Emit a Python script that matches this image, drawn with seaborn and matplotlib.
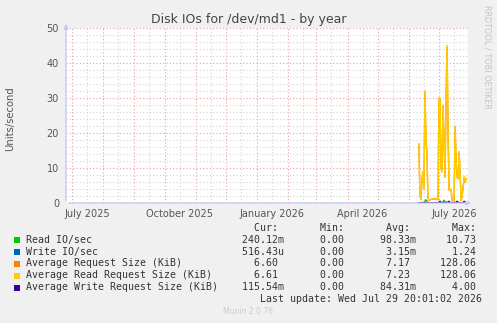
import numpy as np
import pandas as pd
import matplotlib
matplotlib.use("Agg")
import matplotlib.pyplot as plt
import matplotlib.dates as mdates
import seaborn as sns

# ---------------- data ----------------
start_day = "2026-06-11"
n_days = 48
avg_read_req = [17, 2, 1, 6.5, 9, 4, 32, 18, 14, 1.5, 0.8, 0.9, 1.0, 1.1, 1.2, 1.0,
                1.3, 1.1, 1.2, 0.9, 30, 30, 10, 9, 28, 18, 7.5, 30, 45, 21, 3.7, 4,
                3.7, 0.7, 0.5, 0.5, 22, 12, 7.5, 7, 14.7, 8, 0.7, 2, 4.7, 7.5, 6, 7]
avg_req = [16.8, 2, 1, 6.4, 8.9, 4, 31.6, 17.8, 13.8, 1.5, 0.8, 0.9, 1.0, 1.1, 1.2, 1.0,
           1.3, 1.1, 1.2, 0.9, 29.6, 29.7, 9.9, 8.9, 27.7, 17.8, 7.4, 29.7, 44.5, 20.7, 3.7, 4,
           3.7, 0.7, 0.5, 0.5, 21.7, 11.9, 7.4, 6.9, 14.5, 7.9, 0.7, 2, 4.6, 7.4, 5.9, 6.9]
read_io = [0.1, 0.05, 0.05, 0.1, 0.2, 0.1, 0.5, 0.9, 0.6, 0.05, 0.05, 0.05, 0.05, 0.05, 0.05, 0.05,
           0.05, 0.05, 0.05, 0.05, 0.3, 0.2, 0.1, 0.1, 0.4, 0.8, 0.3, 0.2, 0.3, 0.1, 0.05, 0.05,
           0.05, 0.05, 0.05, 0.05, 0.2, 0.1, 0.1, 0.1, 0.2, 0.1, 0.05, 0.05, 0.1, 0.3, 0.2, 0.24]
write_io = [0.003, 0.002, 0.002, 0.003, 0.003, 0.002, 0.004, 0.003, 0.003, 0.002, 0.002, 0.002,
            0.002, 0.002, 0.002, 0.002, 0.002, 0.002, 0.002, 0.002, 0.004, 0.003, 0.003, 0.003,
            0.004, 0.003, 0.003, 0.004, 0.004, 0.003, 0.002, 0.002, 0.002, 0.002, 0.002, 0.002,
            0.003, 0.003, 0.003, 0.003, 0.003, 0.003, 0.002, 0.002, 0.003, 0.003, 0.003, 0.0005]
avg_write_req = [0.1, 0.08, 0.08, 0.1, 0.1, 0.08, 0.1, 0.12, 0.1, 0.08, 0.08, 0.08, 0.08, 0.08,
                 0.08, 0.08, 0.08, 0.08, 0.08, 0.08, 0.1, 0.5, 0.1, 0.08, 0.1, 0.1, 0.1, 0.12,
                 0.1, 0.1, 0.5, 0.08, 0.08, 0.08, 0.08, 0.08, 0.1, 0.1, 0.5, 0.1, 0.1, 0.1,
                 0.08, 0.08, 0.1, 0.5, 0.1, 0.12]

series_names = ["Read IO/sec", "Write IO/sec", "Average Request Size (KiB)",
                "Average Read Request Size (KiB)", "Average Write Request Size (KiB)"]
series_colors = ["#00CC00", "#0066B3", "#FF8000", "#FFCC00", "#330099"]
cur_vals = ["240.12m", "516.43u", "6.60", "6.61", "115.54m"]
min_vals = ["0.00", "0.00", "0.00", "0.00", "0.00"]
avg_vals = ["98.33m", "3.15m", "7.17", "7.23", "84.31m"]
max_vals = ["10.73", "1.24", "128.06", "128.06", "4.00"]

title = "Disk IOs for /dev/md1 - by year"
ylabel = "Units/second"
last_update = "Last update: Wed Jul 29 20:01:02 2026"

# ---------------- build frame ----------------
dates = pd.date_range(start_day, periods=n_days, freq="D")
all_vals = [read_io, write_io, avg_req, avg_read_req, avg_write_req]
df = pd.concat([pd.DataFrame({"date": dates, "value": v, "series": s})
                for s, v in zip(series_names, all_vals)], ignore_index=True)

# ---------------- figure ----------------
W, H = 497, 323
sns.set_theme(style="white")
plt.rcParams["font.family"] = ["DejaVu Sans"]
fig = plt.figure(figsize=(W / 100, H / 100), dpi=100, facecolor="#F0F0F0")
L, R, T, B = 66, 468, 28, 203
ax = fig.add_axes([L / W, 1 - B / H, (R - L) / W, (B - T) / H])
ax.set_facecolor("white")

for s, c in zip(series_names, series_colors):
    sns.lineplot(data=df[df["series"] == s], x="date", y="value", color=c,
                 linewidth=1.0, ax=ax, legend=False, zorder=5)

ax.set_xlim(pd.Timestamp("2025-06-25"), pd.Timestamp("2026-07-29 20:00"))
ax.set_ylim(0, 50)

red = "#E8A0A0"
gray = "#D4D4D4"
ax.yaxis.set_major_locator(matplotlib.ticker.MultipleLocator(10))
ax.yaxis.set_minor_locator(matplotlib.ticker.MultipleLocator(2))
ax.xaxis.set_major_locator(mdates.MonthLocator(bymonthday=1))
ax.xaxis.set_minor_locator(mdates.MonthLocator(bymonthday=16))
ax.xaxis.set_major_formatter(matplotlib.ticker.NullFormatter())


def minor_fmt(x, pos):
    d = mdates.num2date(x)
    if d.month in (1, 4, 7, 10):
        return d.strftime("%B %Y")
    return ""


ax.xaxis.set_minor_formatter(matplotlib.ticker.FuncFormatter(minor_fmt))

ax.grid(which="major", axis="both", color=red, linestyle=(0, (1, 2)), linewidth=0.8, zorder=1)
ax.grid(which="minor", axis="both", color=gray, linestyle=(0, (1, 2)), linewidth=0.8, zorder=0)
ax.set_axisbelow(True)

ax.tick_params(axis="y", which="both", length=2, width=0.8, color="#AAAAAA",
               labelsize=7, labelcolor="#555555", pad=3)
ax.tick_params(axis="x", which="major", length=2, width=0.8, color=red, labelsize=0)
ax.tick_params(axis="x", which="minor", length=0, labelsize=7, labelcolor="#555555", pad=4)

for sp in ax.spines.values():
    sp.set_visible(False)
ax.set_xlabel("")
ax.set_ylabel("")

# axes with arrows
axis_col = "#C8C8F4"
fig.add_artist(matplotlib.patches.FancyArrowPatch((L / W, 1 - B / H), ((R + 6) / W, 1 - B / H),
                                                  transform=fig.transFigure, arrowstyle="-|>",
                                                  mutation_scale=7, color=axis_col, lw=1))
fig.add_artist(matplotlib.patches.FancyArrowPatch((L / W, 1 - (B + 1) / H), (L / W, 1 - (T - 7) / H),
                                                  transform=fig.transFigure, arrowstyle="-|>",
                                                  mutation_scale=7, color=axis_col, lw=1))


def ft(x, y, s, **kw):
    fig.text(x / W, 1 - y / H, s, **kw)


ft(248.5, 19, title, ha="center", va="center", fontsize=9.0, color="#444444")
ft(10, 119, ylabel, ha="center", va="center", rotation=90, fontsize=7.2, color="#555555")
ft(487.5, 5, "RRDTOOL / TOBI OETIKER", ha="center", va="top", rotation=270,
   fontsize=5.9, color="#C4C4C4")

mono = dict(family="DejaVu Sans Mono", fontsize=7.1, color="#333333", va="center", ha="left")
header = " " * 38 + "Cur:" + " " * 7 + "Min:" + " " * 7 + "Avg:" + " " * 7 + "Max:"
ft(26, 228, header, **mono)


def fld(v):
    if v[-1].isalpha():
        return v.rjust(7)
    return (v + " ").rjust(7)


ys = [239.5, 251.5, 263.5, 275.5, 287.5]
for name, c, cu, mi, av, mx, y in zip(series_names, series_colors, cur_vals, min_vals,
                                      avg_vals, max_vals, ys):
    line = name.ljust(36) + fld(cu) + "    " + fld(mi) + "    " + fld(av) + "    " + fld(mx)
    ft(26, y, line, **mono)
    fig.add_artist(matplotlib.patches.Rectangle((14 / W, 1 - (y + 3) / H), 6 / W, 6 / H,
                                                transform=fig.transFigure, facecolor=c,
                                                edgecolor="none"))
ft(482.5, 299.5, last_update, **{**mono, "ha": "right"})
ft(248, 312, "Munin 2.0.76", ha="center", va="center", fontsize=5.5, color="#CCCCCC")

fig.savefig("out.png", dpi=100, facecolor=fig.get_facecolor())
